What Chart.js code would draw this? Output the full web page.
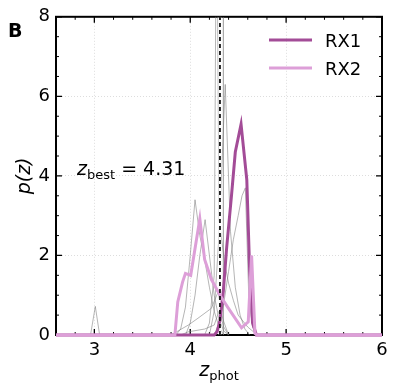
<!DOCTYPE html>
<html>
<head>
<meta charset="utf-8">
<script src="https://cdn.jsdelivr.net/npm/chart.js@4.4.1/dist/chart.umd.min.js"></script>
<style>
  html, body { margin: 0; padding: 0; background: #fff; }
</style>
</head>
<body>
<canvas id="c" width="396" height="390"></canvas>
<script>
// axes
const xMin = 2.6, xMax = 6, yMin = 0, yMax = 8;
const xTicks = [3, 4, 5, 6];
const yTicks = [0, 2, 4, 6, 8];
const xMinorTicks = [2.8, 3.2, 3.4, 3.6, 3.8, 4.2, 4.4, 4.6, 4.8, 5.2, 5.4, 5.6, 5.8];
const yMinorTicks = [0.5, 1, 1.5, 2.5, 3, 3.5, 4.5, 5, 5.5, 6.5, 7, 7.5];

// p(z) of the two sources
const zRX1 = [2.6, 4.25, 4.28, 4.31, 4.345, 4.38, 4.43, 4.47, 4.53, 4.59, 4.62, 4.65, 4.69, 6.0];
const pRX1 = [0, 0, 0.08, 0.37, 1.1, 2.2, 3.5, 4.6, 5.3, 3.9, 1.6, 0.3, 0, 0];
const zRX2 = [2.6, 3.84, 3.87, 3.92, 3.95, 4.005, 4.10, 4.15, 4.22, 4.31, 4.39, 4.535, 4.605, 4.64, 4.675, 4.70, 6.0];
const pRX2 = [0, 0, 0.83, 1.33, 1.55, 1.5, 2.92, 1.9, 1.4, 1.0, 0.7, 0.18, 0.33, 2.0, 0.04, 0, 0];

// thin grey p(z) of the other fits
const zGreyA = [3.85, 3.90, 3.95, 4.00, 4.05, 4.10, 4.15, 4.20, 4.25, 4.30, 4.35];
const pGreyA = [0, 0.15, 0.7, 2.0, 3.4, 2.5, 1.9, 1.2, 0.6, 0.2, 0];
const zGreyB = [3.95, 4.00, 4.05, 4.10, 4.155, 4.20, 4.25, 4.30, 4.35, 4.40];
const pGreyB = [0, 0.3, 1.0, 2.0, 2.9, 2.0, 1.0, 0.4, 0.1, 0];
const zGreyC = [4.20, 4.25, 4.30, 4.365, 4.42, 4.47, 4.52, 4.57, 4.62];
const pGreyC = [0, 0.6, 2.5, 6.3, 2.6, 1.2, 0.5, 0.15, 0];
const zGreyD = [4.25, 4.30, 4.35, 4.40, 4.45, 4.50, 4.54, 4.575, 4.61, 4.65, 4.70];
const pGreyD = [0, 0.3, 0.8, 1.6, 2.4, 3.0, 3.5, 3.7, 1.0, 0.2, 0];
const zGreyE = [4.15, 4.20, 4.25, 4.275, 4.30, 4.36, 4.40, 4.45, 4.50, 4.60, 4.70];
const pGreyE = [0, 0.3, 1.5, 12, 2.9, 1.8, 1.3, 0.87, 0.5, 0.2, 0];
const zGreyF = [3.80, 3.98, 4.08, 4.22, 4.29, 4.34, 4.40];
const pGreyF = [0, 0.25, 0.42, 0.67, 1.08, 0.4, 0];
const zGreyG = [3.90, 3.98, 4.15, 4.25, 4.30, 4.35, 4.40];
const pGreyG = [0, 0.08, 0.15, 0.25, 0.6, 0.2, 0];
const zGreyH = [2.96, 3.01, 3.055];
const pGreyH = [0, 0.72, 0];

// vertical markers
const zBest = 4.31;
const zRef = 4.345;

const pts = (zs, ps) => zs.map((z, i) => ({ x: z, y: ps[i] }));
const vline = z => [{ x: z, y: yMin }, { x: z, y: yMax }];

const greyStyle = {
  borderColor: 'rgba(120,120,120,0.55)', borderWidth: 1,
  pointRadius: 0, showLine: true, tension: 0
};
const greySets = [
  [zGreyA, pGreyA], [zGreyB, pGreyB], [zGreyC, pGreyC], [zGreyD, pGreyD],
  [zGreyE, pGreyE], [zGreyF, pGreyF], [zGreyG, pGreyG], [zGreyH, pGreyH]
].map(([z, p]) => Object.assign({ label: '', data: pts(z, p) }, greyStyle));

const rx1Color = '#a34c97';
const rx2Color = '#dd9fd8';

// frame, inward ticks and texts
const decor = {
  id: 'decor',
  beforeDatasetsDraw(chart) {
    const { ctx, chartArea: a, scales: { x, y } } = chart;
    ctx.save();
    ctx.strokeStyle = '#000';
    ctx.lineWidth = 1.3;
    ctx.beginPath();
    xTicks.forEach(v => {
      const px = x.getPixelForValue(v);
      ctx.moveTo(px, a.bottom); ctx.lineTo(px, a.bottom - 6);
      ctx.moveTo(px, a.top); ctx.lineTo(px, a.top + 6);
    });
    yTicks.forEach(v => {
      const py = y.getPixelForValue(v);
      ctx.moveTo(a.left, py); ctx.lineTo(a.left + 6, py);
      ctx.moveTo(a.right, py); ctx.lineTo(a.right - 6, py);
    });
    ctx.stroke();
    ctx.lineWidth = 1;
    ctx.beginPath();
    xMinorTicks.forEach(v => {
      const px = x.getPixelForValue(v);
      ctx.moveTo(px, a.bottom); ctx.lineTo(px, a.bottom - 3);
      ctx.moveTo(px, a.top); ctx.lineTo(px, a.top + 3);
    });
    yMinorTicks.forEach(v => {
      const py = y.getPixelForValue(v);
      ctx.moveTo(a.left, py); ctx.lineTo(a.left + 3, py);
      ctx.moveTo(a.right, py); ctx.lineTo(a.right - 3, py);
    });
    ctx.stroke();
    ctx.lineWidth = 2;
    ctx.strokeRect(a.left, a.top, a.width, a.height);
    ctx.restore();
  },
  afterDraw(chart) {
    const { ctx, chartArea: a } = chart;
    ctx.save();
    ctx.fillStyle = '#000';
    ctx.textBaseline = 'alphabetic';

    // panel letter
    ctx.font = 'bold 19px "DejaVu Sans"';
    ctx.textAlign = 'left';
    ctx.fillText('B', 8, 37);

    // x title: z_phot
    const big = 'italic 19px "DejaVu Sans"', sub = '13px "DejaVu Sans"';
    ctx.font = big; const wz = ctx.measureText('z').width;
    ctx.font = sub; const ws = ctx.measureText('phot').width;
    let x0 = (a.left + a.right) / 2 - (wz + ws) / 2;
    ctx.font = big; ctx.fillText('z', x0, 376);
    ctx.font = sub; ctx.fillText('phot', x0 + wz, 380);

    // y title: p(z)
    ctx.save();
    ctx.translate(30, (a.top + a.bottom) / 2);
    ctx.rotate(-Math.PI / 2);
    ctx.textAlign = 'center';
    ctx.font = 'italic 19px "DejaVu Sans"';
    ctx.fillText('p(z)', 0, 0);
    ctx.restore();

    // z_best annotation
    x0 = 77;
    ctx.font = big; ctx.fillText('z', x0, 175);
    ctx.font = sub; ctx.fillText('best', x0 + wz, 179);
    const wb = ctx.measureText('best').width;
    ctx.font = '19px "DejaVu Sans"';
    ctx.fillText(' = ' + zBest.toFixed(2), x0 + wz + wb, 175);

    // legend
    const items = [['RX1', rx1Color, 40], ['RX2', rx2Color, 68]];
    ctx.font = '18px "DejaVu Sans"';
    items.forEach(([t, c, ly]) => {
      ctx.strokeStyle = c; ctx.lineWidth = 3;
      ctx.beginPath(); ctx.moveTo(269, ly); ctx.lineTo(312, ly); ctx.stroke();
      ctx.fillText(t, 325, ly + 7);
    });
    ctx.restore();
  }
};

const clipLines = { left: 0, right: 0, top: 0, bottom: 4 };

new Chart(document.getElementById('c'), {
  type: 'scatter',
  data: {
    datasets: [
      { label: 'zbest', data: vline(zBest), borderColor: '#111', borderWidth: 1.8,
        borderDash: [4, 3], pointRadius: 0, showLine: true },
      { label: 'RX2', data: pts(zRX2, pRX2), borderColor: rx2Color, borderWidth: 3,
        pointRadius: 0, showLine: true, clip: clipLines },
      { label: 'RX1', data: pts(zRX1, pRX1), borderColor: rx1Color, borderWidth: 3,
        pointRadius: 0, showLine: true, clip: clipLines },
      { label: 'zbest-bg', data: vline(zBest), borderColor: '#fff', borderWidth: 2.5,
        pointRadius: 0, showLine: true },
      Object.assign({ label: 'zref', data: vline(zRef) }, greyStyle,
        { borderColor: 'rgba(110,110,110,0.7)' }),
      ...greySets
    ]
  },
  options: {
    responsive: false,
    animation: false,
    layout: { padding: { left: 0, right: 14, top: 15, bottom: 0 } },
    plugins: { legend: { display: false }, tooltip: { enabled: false } },
    scales: {
      x: {
        type: 'linear', min: xMin, max: xMax,
        afterBuildTicks: s => { s.ticks = xTicks.map(v => ({ value: v })); },
        afterFit: s => { s.height = 55; },
        ticks: { color: '#000', font: { family: 'DejaVu Sans', size: 18 }, padding: 5,
          maxRotation: 0, callback: v => String(v) },
        grid: { color: '#d4d4d4', lineWidth: 0.8, drawTicks: false },
        border: { display: false, dash: [1, 2] }
      },
      y: {
        type: 'linear', min: yMin, max: yMax,
        afterBuildTicks: s => { s.ticks = yTicks.map(v => ({ value: v })); },
        afterFit: s => { s.width = 56; },
        ticks: { color: '#000', font: { family: 'DejaVu Sans', size: 18 }, padding: 6,
          callback: v => String(v) },
        grid: { color: '#d4d4d4', lineWidth: 0.8, drawTicks: false },
        border: { display: false, dash: [1, 2] }
      }
    }
  },
  plugins: [decor]
});
</script>
</body>
</html>
